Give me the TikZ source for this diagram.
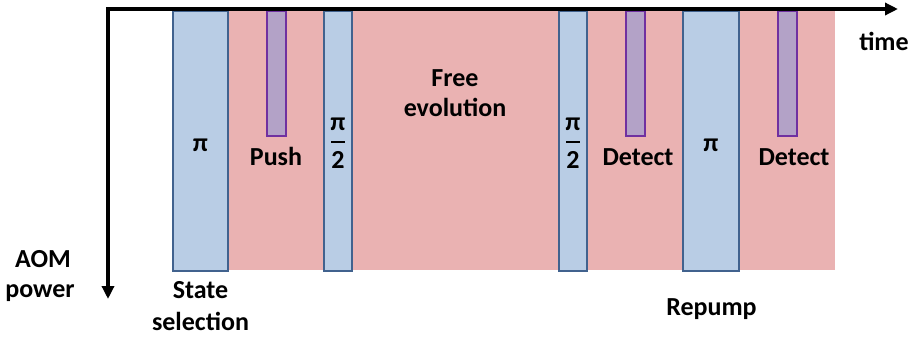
\documentclass[tikz,border=0pt]{standalone}
\usepackage{fontspec}
\setmainfont{Carlito}
\usetikzlibrary{arrows.meta}
\definecolor{pinkbg}{HTML}{EAB2B2}
\definecolor{bluefill}{HTML}{B9CDE5}
\definecolor{blueedge}{HTML}{41628E}
\definecolor{purplefill}{HTML}{B3A2C7}
\definecolor{purpleedge}{HTML}{7030A0}
\tikzset{
  bluepulse/.style={fill=bluefill,draw=blueedge,line width=2.2pt},
  purplepulse/.style={fill=purplefill,draw=purpleedge,line width=2pt},
  axisline/.style={line width=3.5pt,-{Triangle[length=13pt,width=12pt]}},
  lbl/.style={font=\fontsize{26}{31}\selectfont\bfseries,inner sep=0pt,anchor=base},
}
\begin{document}
\begin{tikzpicture}[x=1pt,y=-1pt]
\useasboundingbox (0,0) rectangle (911,338);
% background
\fill[pinkbg] (229,11) rectangle (835,270);
% blue pulses
\draw[bluepulse] (173,11) rectangle (228,271);
\draw[bluepulse] (324,11) rectangle (352,271);
\draw[bluepulse] (559,11) rectangle (587,271);
\draw[bluepulse] (683,11) rectangle (739,271);
% purple pulses
\draw[purplepulse] (267,11) rectangle (286,136);
\draw[purplepulse] (626,11) rectangle (645,136);
\draw[purplepulse] (778,11) rectangle (797,136);
% axes
\coordinate (O) at (108,9);
\coordinate (T) at (898,9);
\coordinate (P) at (108,299);
\draw[axisline] ([xshift=-1.75pt]O) -- (T);
\draw[axisline] (O) -- (P);
% labels
\node[lbl] (pi1) at (200.5,151) {π};
\node[lbl] (push) at (276,165) {Push};
\node[lbl] (pia) at (338,130) {π};
\draw[line width=1.8pt] (331,142) -- (345,142);
\node[lbl] (twoa) at (338,168) {2};
\node[lbl] (free) at (455,86) {Free};
\node[lbl] (evol) at (455,116) {evolution};
\node[lbl] (pib) at (573,130) {π};
\draw[line width=1.8pt] (566,142) -- (580,142);
\node[lbl] (twob) at (573,168) {2};
\node[lbl] (det1) at (638,165) {Detect};
\node[lbl] (pi2) at (711,151) {π};
\node[lbl] (det2) at (794,165) {Detect};
\node[lbl] (time) at (884,50) {time};
\node[lbl] (aom) at (43,267) {AOM};
\node[lbl] (power) at (40,297) {power};
\node[lbl] (state) at (200.5,298) {State};
\node[lbl] (sel) at (200.5,330) {selection};
\node[lbl] (rep) at (711.5,315) {Repump};
\end{tikzpicture}
\end{document}
